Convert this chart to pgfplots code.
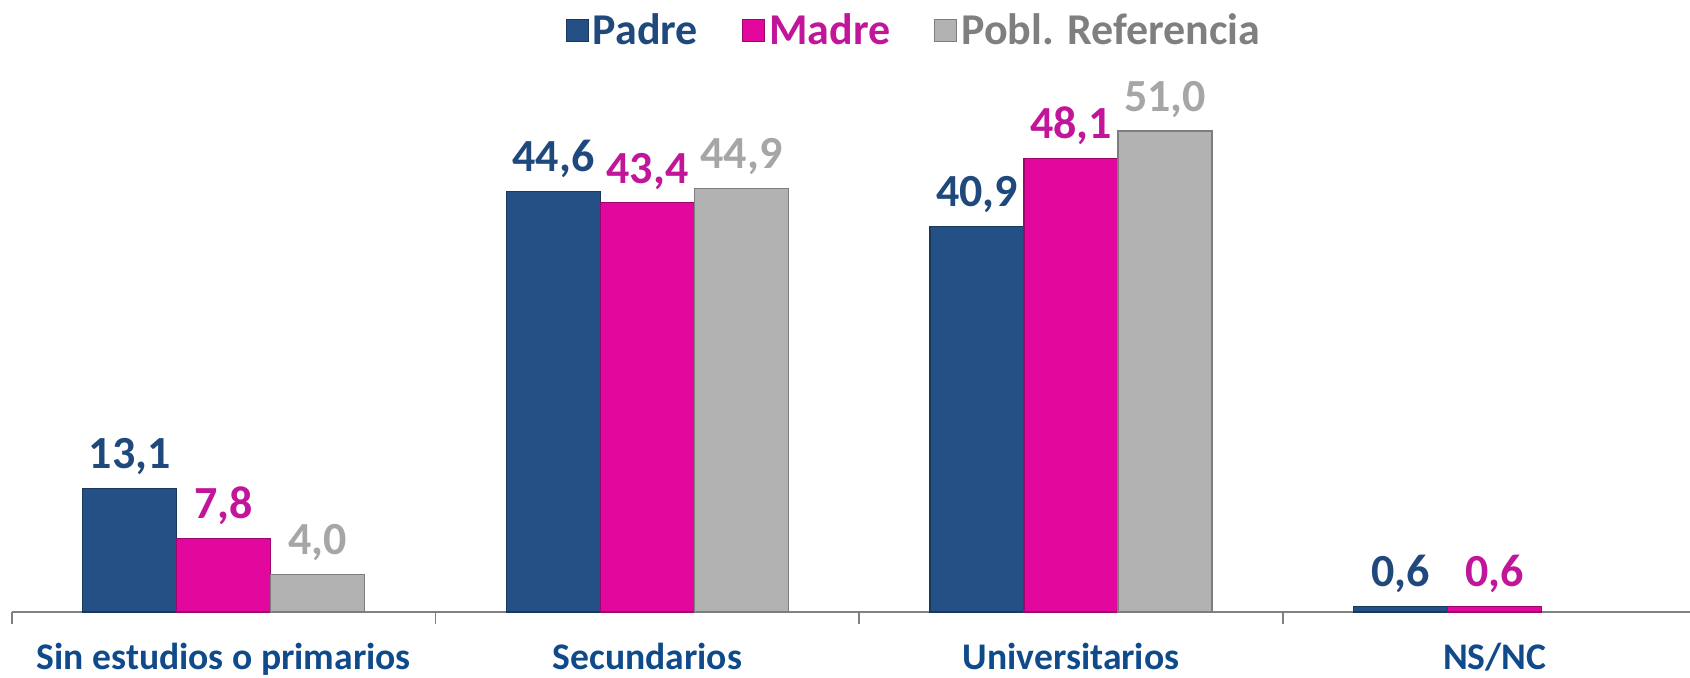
\documentclass[border=0pt]{standalone}
\usepackage{pgfplots}
\pgfplotsset{compat=1.18}
\usepackage{fontspec}
\setmainfont{Carlito}

\definecolor{padreBar}{HTML}{245086}
\definecolor{padreTxt}{HTML}{1F497D}
\definecolor{madreBar}{HTML}{E2089E}
\definecolor{madreTxt}{HTML}{C2169A}
\definecolor{poblBar}{HTML}{B2B2B2}
\definecolor{poblTxt}{HTML}{A6A6A6}
\definecolor{poblLeg}{HTML}{7F7F7F}
\definecolor{catTxt}{HTML}{0F4A8A}

\begin{document}
\begin{tikzpicture}
\begin{axis}[
    name=ax,
    scale only axis,
    width=839pt,
    height=259.4pt,
    ybar=0pt,
    bar width=47pt,
    xmin=-0.5, xmax=3.461,
    ymin=0, ymax=55,
    axis x line*=bottom,
    axis y line=none,
    x axis line style={gray, line width=0.8pt},
    xtick={0,1,2,3},
    xticklabels={Sin estudios o primarios, Secundarios, Universitarios, NS/NC},
    major tick length=0pt,
    xticklabel style={font=\fontsize{18.8}{22}\selectfont\bfseries, text=catTxt, yshift=-12pt},
    extra x ticks={-0.5,0.5,1.5,2.5},
    extra x tick labels={},
    extra x tick style={major tick length=6pt, tick align=outside,
        tick style={gray, line width=0.8pt}},
    clip=false,
    nodes near coords,
    /pgf/number format/.cd, fixed, fixed zerofill, precision=1, use comma,
        assume math mode=true,
    /pgfplots/.cd,
    every node near coord/.append style={font=\fontsize{23}{27}\selectfont\bfseries, yshift=3pt},
    legend columns=-1,
    legend style={draw=none, fill=none, at={(0.5,1)}, anchor=center,
        xshift=32pt, yshift=31.5pt, font=\fontsize{22}{26}\selectfont\bfseries,
        /tikz/every even column/.append style={column sep=20pt},
        inner sep=0pt},
    legend image code/.code={\fill[#1] (-3pt,-5.5pt) rectangle (8pt,5.5pt);},
]
\addplot[fill=padreBar, draw=padreBar!70!black, line width=0.6pt,
    every node near coord/.append style={text=padreTxt}]
    coordinates {(0,13.1) (1,44.6) (2,40.9) (3,0.6)};
\addplot[fill=madreBar, draw=madreBar!70!black, line width=0.6pt,
    every node near coord/.append style={text=madreTxt}]
    coordinates {(0,7.8) (1,43.4) (2,48.1) (3,0.6)};
\addplot[fill=poblBar, draw=poblBar!70!black, line width=0.6pt,
    every node near coord/.append style={text=poblTxt}]
    coordinates {(0,4.0) (1,44.9) (2,51.0)};
\legend{\textcolor{padreTxt}{Padre}, \textcolor{madreTxt}{Madre}, \textcolor{poblLeg}{Pobl. Referencia}}
\end{axis}
\pgfresetboundingbox
\path[use as bounding box] ([xshift=-6pt,yshift=-33pt]ax.south west) rectangle ([yshift=46.6pt]ax.north east);
\end{tikzpicture}
\end{document}
